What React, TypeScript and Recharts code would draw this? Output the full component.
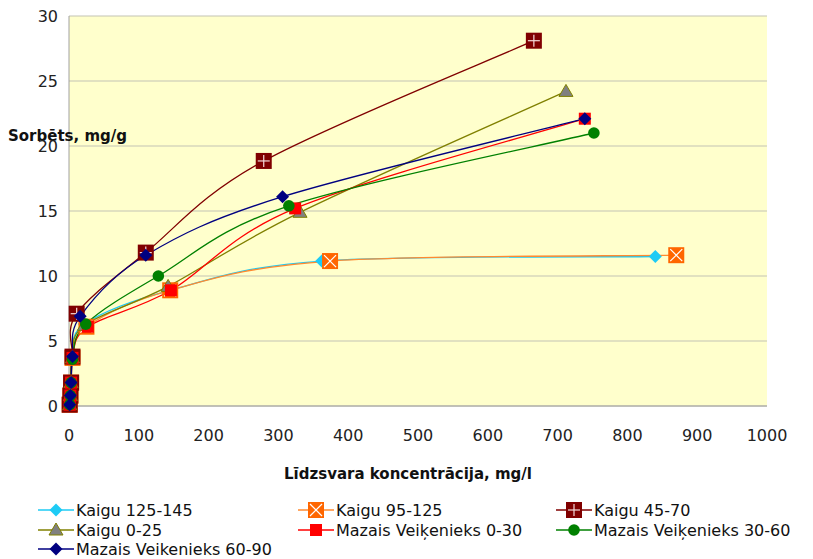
import { CartesianGrid, Legend, Line, LineChart, XAxis, YAxis } from "recharts";

// sorption isotherms
const kaigu125X = [1, 2, 3, 5, 22, 145, 362, 840];
const kaigu125Y = [0.1, 0.8, 1.8, 3.7, 6.3, 8.9, 11.15, 11.5];
const kaigu95X = [1, 2, 3, 5, 25, 145, 374, 870];
const kaigu95Y = [0.1, 0.8, 1.8, 3.7, 6.1, 8.9, 11.15, 11.6];
const kaigu45X = [1, 2, 3, 5, 11, 110, 279, 666];
const kaigu45Y = [0.1, 0.8, 1.8, 3.8, 7.1, 11.8, 18.85, 28.1];
const kaigu0X = [1, 2, 3, 5, 22, 142, 331, 712];
const kaigu0Y = [0.1, 0.8, 1.8, 3.7, 6.2, 9.2, 14.9, 24.2];
const mazais0X = [1, 2, 3, 5, 27, 146, 324, 739];
const mazais0Y = [0.1, 0.8, 1.8, 3.7, 6.1, 8.9, 15.2, 22.1];
const mazais30X = [1, 2, 3, 5, 24, 128, 315, 752];
const mazais30Y = [0.1, 0.8, 1.8, 3.6, 6.3, 10.0, 15.4, 21.0];
const mazais60X = [1, 2, 3, 5, 16, 110, 306, 739];
const mazais60Y = [0.1, 0.8, 1.8, 3.8, 6.9, 11.6, 16.1, 22.1];

const xTicks = [0, 100, 200, 300, 400, 500, 600, 700, 800, 900, 1000];
const yTicks = [0, 5, 10, 15, 20, 25, 30];

const toPoints = (xs: number[], ys: number[]) => xs.map((x, i) => ({ x, y: ys[i] }));

// Excel-style smoothed line (uniform Catmull-Rom as cubic beziers)
function excelSmooth(context: any) {
  let pts: [number, number][] = [];
  return {
    areaStart() {},
    areaEnd() {},
    lineStart() {
      pts = [];
    },
    point(x: number, y: number) {
      pts.push([+x, +y]);
    },
    lineEnd() {
      if (!pts.length) return;
      context.moveTo(pts[0][0], pts[0][1]);
      for (let i = 0; i < pts.length - 1; i++) {
        const p0 = pts[i - 1] || pts[i];
        const p1 = pts[i];
        const p2 = pts[i + 1];
        const p3 = pts[i + 2] || pts[i + 1];
        context.bezierCurveTo(
          p1[0] + (p2[0] - p0[0]) / 6,
          p1[1] + (p2[1] - p0[1]) / 6,
          p2[0] - (p3[0] - p1[0]) / 6,
          p2[1] - (p3[1] - p1[1]) / 6,
          p2[0],
          p2[1]
        );
      }
    },
  };
}

type MarkerKind = "cyanDiamond" | "orangeX" | "plus" | "triangle" | "square" | "circle" | "navyDiamond";

function Marker({ kind, cx, cy }: { kind: MarkerKind; cx: number; cy: number }) {
  switch (kind) {
    case "cyanDiamond":
      return <polygon points={`${cx},${cy - 6.5} ${cx + 6.5},${cy} ${cx},${cy + 6.5} ${cx - 6.5},${cy}`} fill="#1ECBF5" />;
    case "navyDiamond":
      return <polygon points={`${cx},${cy - 6.5} ${cx + 6.5},${cy} ${cx},${cy + 6.5} ${cx - 6.5},${cy}`} fill="#000080" />;
    case "orangeX":
      return (
        <g>
          <rect x={cx - 8} y={cy - 8} width={16} height={16} fill="#FF6600" />
          <line x1={cx - 6} y1={cy - 6} x2={cx + 6} y2={cy + 6} stroke="#fff" strokeWidth={1.2} />
          <line x1={cx + 6} y1={cy - 6} x2={cx - 6} y2={cy + 6} stroke="#fff" strokeWidth={1.2} />
        </g>
      );
    case "plus":
      return (
        <g>
          <rect x={cx - 8} y={cy - 8} width={16} height={16} fill="#800000" />
          <line x1={cx - 6} y1={cy} x2={cx + 6} y2={cy} stroke="#f4dada" strokeWidth={1.2} />
          <line x1={cx} y1={cy - 6} x2={cx} y2={cy + 6} stroke="#f4dada" strokeWidth={1.2} />
        </g>
      );
    case "triangle":
      return <polygon points={`${cx},${cy - 7} ${cx + 7},${cy + 5} ${cx - 7},${cy + 5}`} fill="#808080" stroke="#808000" strokeWidth={1} />;
    case "square":
      return <rect x={cx - 6} y={cy - 6} width={12} height={12} fill="#FF0000" />;
    case "circle":
      return <circle cx={cx} cy={cy} r={5.8} fill="#008000" />;
  }
}

const dotFor = (kind: MarkerKind) => (props: any) => {
  const { cx, cy, index } = props;
  if (cx == null || cy == null) return <g key={index} />;
  return (
    <g key={`${kind}-${index}`}>
      <Marker kind={kind} cx={cx} cy={cy} />
    </g>
  );
};

const series = [
  { name: "Kaigu 125-145", color: "#1ECBF5", kind: "cyanDiamond" as MarkerKind, data: toPoints(kaigu125X, kaigu125Y) },
  { name: "Kaigu 95-125", color: "#FF8A30", kind: "orangeX" as MarkerKind, data: toPoints(kaigu95X, kaigu95Y) },
  { name: "Kaigu 45-70", color: "#800000", kind: "plus" as MarkerKind, data: toPoints(kaigu45X, kaigu45Y) },
  { name: "Kaigu 0-25", color: "#808000", kind: "triangle" as MarkerKind, data: toPoints(kaigu0X, kaigu0Y) },
  { name: "Mazais Veiķenieks 0-30", color: "#FF0000", kind: "square" as MarkerKind, data: toPoints(mazais0X, mazais0Y) },
  { name: "Mazais Veiķenieks 30-60", color: "#008000", kind: "circle" as MarkerKind, data: toPoints(mazais30X, mazais30Y) },
  { name: "Mazais Veikenieks 60-90", color: "#000080", kind: "navyDiamond" as MarkerKind, data: toPoints(mazais60X, mazais60Y) },
];

const FONT = "'DejaVu Sans', sans-serif";
const legendCols = [38, 298, 556];
const legendRows = [0, 20, 39];

function LegendBox() {
  return (
    <div style={{ position: "relative", width: 813, height: 60, fontFamily: FONT, fontSize: 16, color: "#111" }}>
      {series.map((s, i) => (
        <div
          key={s.name}
          style={{
            position: "absolute",
            left: legendCols[i % 3],
            top: legendRows[Math.floor(i / 3)],
            display: "flex",
            alignItems: "center",
            whiteSpace: "nowrap",
            height: 20,
          }}
        >
          <svg width={36} height={18} style={{ marginRight: 2 }}>
            <line x1={0} y1={9} x2={36} y2={9} stroke={s.color} strokeWidth={1.3} />
            <Marker kind={s.kind} cx={18} cy={9} />
          </svg>
          <span>{s.name}</span>
        </div>
      ))}
    </div>
  );
}

export default function App() {
  return (
    <div style={{ position: "absolute", left: 0, top: 0, width: 813, height: 559, background: "#fff" }}>
      <LineChart width={813} height={559} margin={{ top: 16, right: 46, bottom: 113, left: 0 }}>
        <CartesianGrid vertical={false} stroke="#c4c4b4" strokeWidth={1.2} fill="#FFFFCC" />
        <XAxis
          type="number"
          dataKey="x"
          domain={[0, 1000]}
          ticks={xTicks}
          height={40}
          tickLine={false}
          tickSize={5}
          tickMargin={19}
          axisLine={{ stroke: "#a0a0a0" }}
          tick={{ fill: "#222", fontSize: 16, fontFamily: FONT }}
          label={{
            value: "Līdzsvara koncentrācija, mg/l",
            content: () => (
              <text x={408} y={479} textAnchor="middle" fontFamily={FONT} fontSize={15} fontWeight="bold" fill="#111">
                Līdzsvara koncentrācija, mg/l
              </text>
            ),
          }}
        />
        <YAxis
          type="number"
          dataKey="y"
          domain={[0, 30]}
          ticks={yTicks}
          width={69}
          tickLine={false}
          tickSize={5}
          tickMargin={6}
          axisLine={{ stroke: "#a0a0a0" }}
          tick={{ fill: "#222", fontSize: 16, fontFamily: FONT }}
          label={{
            value: "Sorbēts, mg/g",
            content: () => (
              <text x={8} y={141} fontFamily={FONT} fontSize={15} fontWeight="bold" fill="#111">
                Sorbēts, mg/g
              </text>
            ),
          }}
        />
        {series.map((s) => (
          <Line
            key={s.name}
            data={s.data}
            dataKey="y"
            name={s.name}
            type={excelSmooth as any}
            stroke={s.color}
            strokeWidth={1.3}
            dot={dotFor(s.kind)}
            activeDot={false}
            isAnimationActive={false}
          />
        ))}
        <Legend
          layout="horizontal"
          verticalAlign="middle"
          align="center"
          wrapperStyle={{ top: 500, left: 0, width: 813 }}
          content={() => <LegendBox />}
        />
      </LineChart>
    </div>
  );
}
